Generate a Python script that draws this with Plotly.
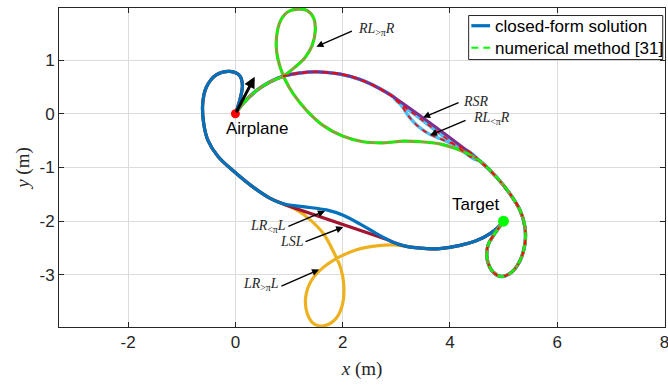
import plotly.graph_objects as go

# ---------------- data (metres) ----------------
# first left arc shared by the L-start paths (Airplane -> split point)
L1_x = [0, 0.08, 0.13, 0.08, -0.10, -0.35, -0.54, -0.61, -0.59, -0.51, -0.32, -0.02, 0.35, 0.64, 0.87]
L1_y = [0, 0.25, 0.53, 0.71, 0.79, 0.73, 0.50, 0.19, -0.19, -0.50, -0.80, -1.08, -1.38, -1.57, -1.67]
# middle part of LR<pi L (blue)
lrl_x = [0.87, 1.26, 1.70, 2.01, 2.32, 2.63, 2.94, 3.19]
lrl_y = [-1.67, -1.73, -1.79, -1.89, -2.05, -2.23, -2.39, -2.47]
# straight part of LSL
lsl_x = [0.87, 2.85]
lsl_y = [-1.67, -2.35]
# middle part of LR>pi L (yellow loop)
lrl2_x = [0.87, 1.14, 1.39, 1.64, 1.82, 1.96, 2.02, 2.00, 1.87, 1.64, 1.45, 1.34, 1.31, 1.42, 1.64, 1.95, 2.26, 2.63, 2.94, 3.19]
lrl2_y = [-1.67, -1.79, -1.97, -2.23, -2.55, -2.86, -3.17, -3.54, -3.82, -3.95, -3.90, -3.72, -3.42, -3.10, -2.86, -2.66, -2.53, -2.46, -2.44, -2.47]
# last left arc shared by the L-start paths (-> Target)
Lend_x = [3.19, 3.57, 3.81, 4.19, 4.50, 4.75, 4.90, 5.0]
Lend_y = [-2.47, -2.51, -2.51, -2.45, -2.36, -2.23, -2.11, -2.0]

# first right arc shared by the R-start paths
R1_x = [0, 0.14, 0.39, 0.64, 0.89]
R1_y = [0, 0.19, 0.43, 0.59, 0.70]
# RL>pi R middle (green loop + S-curve)
g_x = [0.89, 1.10, 1.30, 1.43, 1.49, 1.46, 1.34, 1.17, 0.98, 0.84, 0.77, 0.77, 0.83, 0.93, 1.08, 1.33, 1.64, 2.01, 2.38, 2.76, 3.13, 3.44, 3.81, 4.12, 4.37]
g_y = [0.70, 0.86, 1.05, 1.27, 1.55, 1.78, 1.92, 1.95, 1.90, 1.73, 1.45, 1.15, 0.88, 0.63, 0.37, 0.06, -0.22, -0.42, -0.52, -0.54, -0.51, -0.52, -0.56, -0.65, -0.76]
# continuation of the right arc (RSR / RL<pi R)
lb_x = [0.89, 1.20, 1.57, 1.95, 2.32, 2.69, 2.97]
lb_y = [0.70, 0.76, 0.78, 0.74, 0.64, 0.47, 0.30]
# RL<pi R lower branch
rlr_x = [2.97, 3.12, 3.22, 3.38, 3.57, 3.81, 4.12, 4.37, 4.56]
rlr_y = [0.30, 0.12, -0.03, -0.21, -0.35, -0.46, -0.59, -0.71, -0.88]
# RSR straight (closed form) and numerical companion
rsr_x = [2.97, 4.56]
rsr_y = [0.30, -0.88]
rsrn_x = [2.97, 3.50, 4.00, 4.45]
rsrn_y = [0.28, -0.13, -0.51, -0.84]
# last right arc shared by the R-start paths (loop round the Target)
Rend_x = [4.56, 4.87, 5.12, 5.31, 5.40, 5.40, 5.31, 5.15, 4.96, 4.81, 4.70, 4.71, 4.81, 4.93, 5.0]
Rend_y = [-0.88, -1.18, -1.49, -1.80, -2.11, -2.42, -2.73, -2.95, -3.03, -2.95, -2.73, -2.45, -2.27, -2.10, -2.0]

airplane = (0.0, 0.0)
heading_tip = (0.36, 0.69)
target = (5.0, -2.0)

x_ticks = [-2, 0, 2, 4, 6, 8]
y_ticks = [-3, -2, -1, 0, 1]


def cat(*parts):
    xs, ys = [], []
    for px, py in parts:
        px, py = list(px), list(py)
        if xs and abs(xs[-1] - px[0]) < 1e-9 and abs(ys[-1] - py[0]) < 1e-9:
            xs += px[1:]
            ys += py[1:]
        else:
            xs += px
            ys += py
    return xs, ys


fig = go.Figure()


def path(xy, color, width=3.2, dash=None, name=None):
    x, y = xy
    fig.add_trace(go.Scatter(
        x=x, y=y, mode="lines", showlegend=False, hoverinfo="skip",
        line=dict(color=color, width=width, dash=dash, shape="spline", smoothing=1.0),
        name=name))


# L-start paths
path(cat((L1_x, L1_y), (lrl2_x, lrl2_y), (Lend_x, Lend_y)), "#EDB120", name="LR>piL")
path(cat((L1_x, L1_y), (lsl_x, lsl_y), (lrl_x[6:], lrl_y[6:]), (Lend_x, Lend_y)), "#A2142F", name="LSL")
path(cat((L1_x, L1_y), (lrl_x, lrl_y), (Lend_x, Lend_y)), "#0072BD", name="LR<piL")
# R-start paths
path(cat((R1_x, R1_y), (lb_x, lb_y), (rlr_x, rlr_y), (Rend_x, Rend_y)), "#4DBEEE", width=3.4)
path(cat((R1_x, R1_y), (lb_x, lb_y), (rsrn_x, rsrn_y), (Rend_x, Rend_y)), "#4DBEEE", width=3.4)
path(cat((R1_x, R1_y), (lb_x, lb_y), (rsr_x, rsr_y), (Rend_x, Rend_y)), "#7E2F8E", width=3.0)
path(cat((R1_x, R1_y), (g_x, g_y), (Rend_x, Rend_y)), "#77AC30", width=3.2)
# numerical method overlays
path(cat((lb_x, lb_y), (rlr_x, rlr_y), (Rend_x, Rend_y)), "#FF0000", width=1.6, dash="5px,5px")
path(cat((lb_x, lb_y), (rsrn_x, rsrn_y), (Rend_x, Rend_y)), "#FF0000", width=1.6, dash="5px,5px")
path(cat((R1_x, R1_y), (g_x, g_y), (Rend_x, Rend_y)), "#00FF00", width=2.0, dash="7px,6px")

# start / end markers
fig.add_trace(go.Scatter(x=[airplane[0]], y=[airplane[1]], mode="markers", showlegend=False,
                         hoverinfo="skip", marker=dict(color="#FF0000", size=9)))
fig.add_trace(go.Scatter(x=[target[0]], y=[target[1]], mode="markers", showlegend=False,
                         hoverinfo="skip", marker=dict(color="#00FF00", size=11)))

serif = "Liberation Serif, Times New Roman, serif"
sans = "Liberation Sans, Arial, sans-serif"

annotations = []
# heading arrow
annotations.append(dict(x=heading_tip[0], y=heading_tip[1], ax=airplane[0], ay=airplane[1],
                        xref="x", yref="y", axref="x", ayref="y", text="", showarrow=True,
                        arrowhead=2, arrowsize=0.75, arrowwidth=3, arrowcolor="black"))
# label arrows: (text, text x, text y, tail x, tail y, head x, head y)
labels = [
    ("<i>RL</i><sub>&gt;π</sub><i>R</i>", 2.63, 1.57, 2.20, 1.55, 1.51, 1.25),
    ("<i>RSR</i>", 4.49, 0.23, 4.19, 0.22, 3.50, -0.07),
    ("<i>RL</i><sub>&lt;π</sub><i>R</i>", 4.77, -0.08, 4.32, -0.11, 3.63, -0.40),
    ("<i>LR</i><sub>&lt;π</sub><i>L</i>", 0.60, -2.10, 0.96, -2.11, 1.67, -1.81),
    ("<i>LSL</i>", 1.05, -2.38, 1.28, -2.39, 2.01, -2.11),
    ("<i>LR</i><sub>&gt;π</sub><i>L</i>", 0.47, -3.17, 0.83, -3.22, 1.56, -2.90),
]
for t, tx, ty, ax_, ay_, hx, hy in labels:
    annotations.append(dict(x=hx, y=hy, ax=ax_, ay=ay_, xref="x", yref="y", axref="x", ayref="y",
                            text="", showarrow=True, arrowhead=2, arrowsize=1.0,
                            arrowwidth=1.4, arrowcolor="black"))
    annotations.append(dict(x=tx, y=ty, xref="x", yref="y", text=t, showarrow=False,
                            font=dict(family=serif, size=14, color="#262626")))

annotations.append(dict(x=0.40, y=-0.27, xref="x", yref="y", text="Airplane", showarrow=False,
                        font=dict(family=sans, size=17, color="black")))
annotations.append(dict(x=4.49, y=-1.69, xref="x", yref="y", text="Target", showarrow=False,
                        font=dict(family=sans, size=17, color="black")))

# legend (drawn manually to match the short line samples)
annotations.append(dict(x=4.80, y=1.63, xref="x", yref="y", text="closed-form solution",
                        xanchor="left", showarrow=False, font=dict(family=sans, size=17, color="black")))
annotations.append(dict(x=4.80, y=1.22, xref="x", yref="y", text="numerical method [31]",
                        xanchor="left", showarrow=False, font=dict(family=sans, size=17, color="black")))
shapes = [
    dict(type="rect", xref="x", yref="y", x0=4.35, x1=7.97, y0=1.01, y1=1.83,
         line=dict(color="#262626", width=1), fillcolor="white", layer="above"),
    dict(type="line", xref="x", yref="y", x0=4.40, x1=4.75, y0=1.64, y1=1.64,
         line=dict(color="#0072BD", width=3.2)),
    dict(type="line", xref="x", yref="y", x0=4.40, x1=4.75, y0=1.23, y1=1.23,
         line=dict(color="#00FF00", width=2, dash="7px,5px")),
]

axis_common = dict(
    showgrid=True, gridcolor="#DCDCDC", gridwidth=1, zeroline=False,
    showline=True, linecolor="#262626", linewidth=1, mirror="ticks",
    ticks="inside", ticklen=5, tickcolor="#262626", automargin=False,
    ticklabeloverflow="allow",
    tickfont=dict(family=sans, size=17, color="#262626"),
)

fig.update_layout(
    width=668, height=385,
    margin=dict(l=59, r=3, t=8, b=58),
    plot_bgcolor="white", paper_bgcolor="white",
    xaxis=dict(range=[-3.29, 8.012], tickvals=x_ticks, ticktext=[str(v) for v in x_ticks],
               title=dict(text="<i>x</i> (m)", font=dict(family=serif, size=19, color="#262626"), standoff=10),
               **axis_common),
    yaxis=dict(range=[-3.97, 1.97], tickvals=y_ticks, ticktext=[str(v) for v in y_ticks],
               title=dict(text="<i>y</i> (m)", font=dict(family=serif, size=19, color="#262626"), standoff=4),
               **axis_common),
    annotations=annotations, shapes=shapes,
    showlegend=False,
)

fig.write_html("out.html", config={"displayModeBar": False},
               post_script="document.body.style.margin='0px';")
